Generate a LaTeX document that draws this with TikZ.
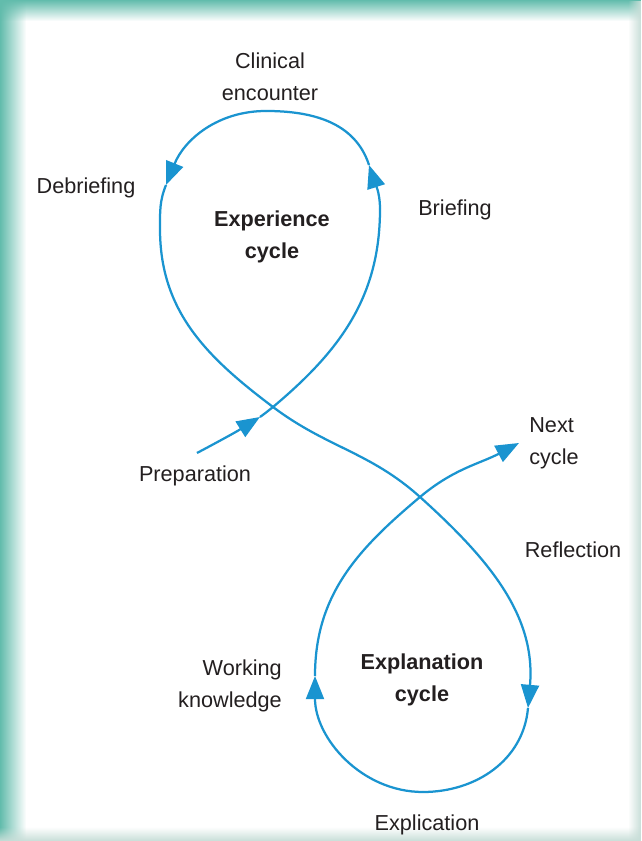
\documentclass[tikz,border=0pt]{standalone}
\usepackage{fontspec}
\setmainfont{Liberation Sans}
\usetikzlibrary{arrows.meta,positioning,fadings}
\definecolor{loopblue}{RGB}{26,148,208}
\definecolor{frameteal}{RGB}{98,188,172}
\definecolor{framegray}{RGB}{200,222,216}
\definecolor{labelgray}{RGB}{35,31,32}

\begin{document}
\begin{tikzpicture}[
    x=0.025cm, y=0.025cm,
    loop/.style={draw=loopblue, line width=1.6pt},
    tip/.style={-{Triangle[length=5.8mm,width=4.5mm]}},
    labeltext/.style={text=labelgray, font=\fontsize{15.4}{22.8}\selectfont, align=center, inner sep=0pt},
    cyclename/.style={labeltext, font=\fontsize{15.4}{22.8}\selectfont\bfseries}
]
    % frame
    \fill[white] (0,0) rectangle (641,841);
    \fill[frameteal, path fading=east] (0,0) rectangle (26,841);
    \fill[frameteal, path fading=south] (0,820) rectangle (641,841);
    \fill[framegray, path fading=west] (628,0) rectangle (641,841);
    \fill[framegray, path fading=north] (0,0) rectangle (641,14);

    % labels
    \node[labeltext] (clinical) at (270,764) {Clinical\\encounter};
    \node[labeltext] (debriefing) at (86,653) {Debriefing};
    \node[labeltext] (briefing) at (455,631) {Briefing};
    \node[cyclename] (experience) at (272,604) {Experience\\cycle};
    \node[labeltext] (preparation) at (195,365) {Preparation};
    \node[labeltext, align=left] (next) at (554,398) {Next\\cycle};
    \node[labeltext] (reflection) at (573,291) {Reflection};
    \node[labeltext, align=right] (working) at (230,155) {Working\\knowledge};
    \node[cyclename] (explanation) at (422,161) {Explanation\\cycle};
    \node[labeltext] (explication) at (427,16) {Explication};

    % points on the figure of eight
    \coordinate (prepStart) at (197,388);
    \coordinate (prepTip) at (260,424);
    \coordinate (crossA) at (273,434);
    \coordinate (expRight) at (380,632);
    \coordinate (briefTip) at (369,676);
    \coordinate (expTop) at (266,730);
    \coordinate (debriefTip) at (166,656);
    \coordinate (expLeft) at (160,612);
    \coordinate (crossB) at (420,344);
    \coordinate (reflTip) at (528,133);
    \coordinate (expBot) at (423,49);
    \coordinate (workTip) at (315,165);
    \coordinate (nextTip) at (519,398);

    % experience cycle
    \draw[loop, tip] (prepStart) to[out=28, in=212] (prepTip);
    \draw[loop] (prepTip) to[out=35, in=218] (crossA) to[out=40, in=-90] (expRight);
    \draw[loop, tip] (expRight) to[out=90, in=-72] (briefTip);
    \draw[loop] (briefTip) to[out=108, in=0] (expTop);
    \draw[loop, tip] (expTop) to[out=180, in=68] (debriefTip);
    \draw[loop] (debriefTip) to[out=248, in=90] (expLeft) to[out=-90, in=143] (crossA)
        to[out=-37, in=138] (crossB);

    % explanation cycle
    \draw[loop, tip] (crossB) to[out=-42, in=85] (reflTip);
    \draw[loop] (reflTip) to[out=-95, in=0] (expBot);
    \draw[loop, tip] (expBot) to[out=180, in=-90] (workTip);
    \draw[loop] (workTip) to[out=90, in=-140] (crossB);
    \draw[loop, tip] (crossB) to[out=40, in=208] (nextTip);
\end{tikzpicture}
\end{document}
